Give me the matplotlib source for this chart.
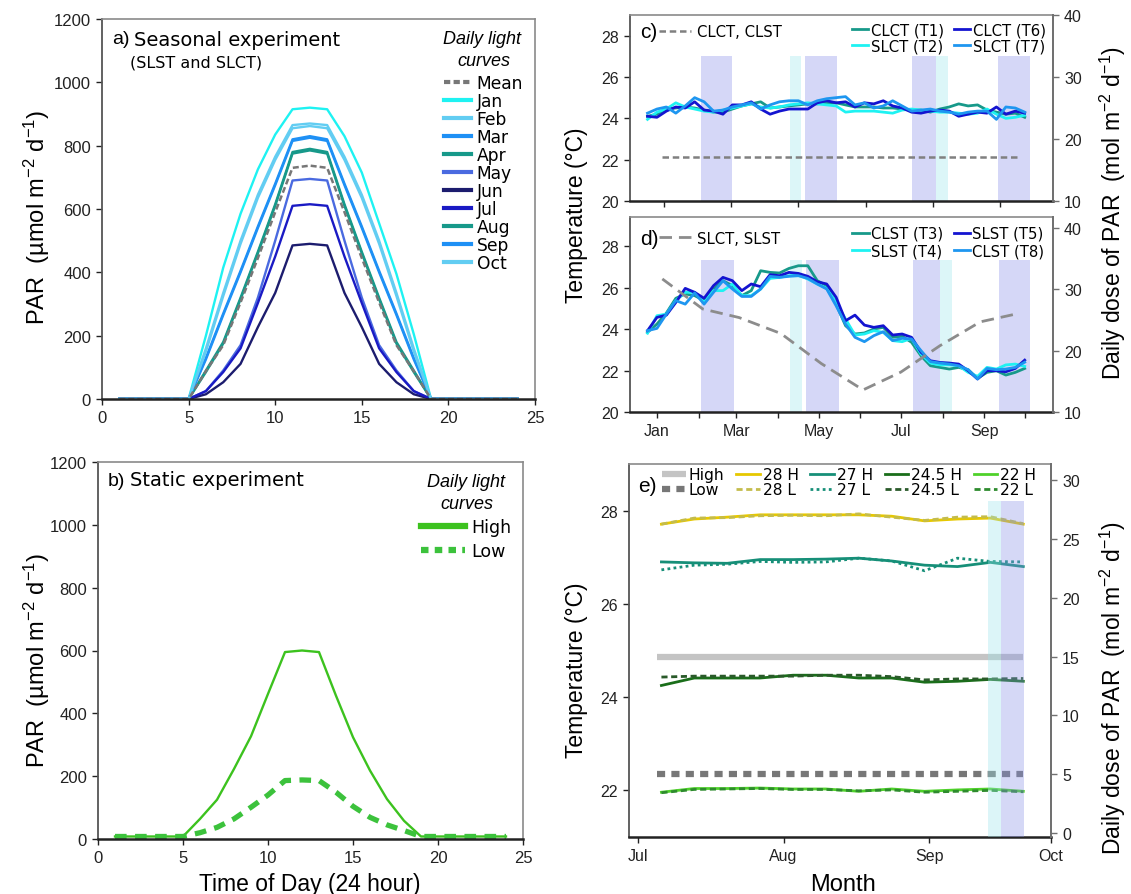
import matplotlib
matplotlib.use("Agg")
import matplotlib.pyplot as plt
from matplotlib.lines import Line2D

plt.rcParams['font.family'] = ['Liberation Sans', 'DejaVu Sans']
plt.rcParams['mathtext.fontset'] = 'custom'
plt.rcParams['mathtext.rm'] = 'Liberation Sans'
plt.rcParams['mathtext.it'] = 'Liberation Sans:italic'

# ---------------- data ----------------
hours = [1, 2, 3, 4, 5, 6, 7, 8, 9, 10, 11, 12, 13, 14, 15, 16, 17, 18, 19, 20, 21, 22, 23, 24]

par_mean = [0, 0, 0, 0, 0, 88, 170, 305, 445, 590, 730, 737, 730, 590, 445, 305, 170, 88, 0, 0, 0, 0, 0, 0]
par_jan = [0, 0, 0, 0, 0, 200, 415, 585, 725, 835, 915, 920, 915, 830, 715, 555, 395, 205, 0, 0, 0, 0, 0, 0]
par_feb = [0, 0, 0, 0, 0, 160, 335, 500, 645, 765, 865, 870, 865, 765, 645, 500, 335, 160, 0, 0, 0, 0, 0, 0]
par_mar = [0, 0, 0, 0, 0, 130, 270, 405, 545, 680, 820, 830, 820, 680, 545, 405, 270, 130, 0, 0, 0, 0, 0, 0]
par_apr = [0, 0, 0, 0, 0, 90, 180, 320, 465, 615, 780, 790, 780, 615, 465, 320, 180, 90, 0, 0, 0, 0, 0, 0]
par_may = [0, 0, 0, 0, 0, 25, 90, 170, 320, 500, 690, 695, 690, 500, 320, 170, 90, 25, 0, 0, 0, 0, 0, 0]
par_jun = [0, 0, 0, 0, 0, 15, 53, 111, 227, 335, 485, 490, 485, 335, 227, 111, 53, 15, 0, 0, 0, 0, 0, 0]
par_jul = [0, 0, 0, 0, 0, 25, 85, 160, 303, 450, 610, 615, 610, 450, 303, 160, 85, 25, 0, 0, 0, 0, 0, 0]
par_aug = [0, 0, 0, 0, 0, 85, 175, 315, 460, 610, 775, 785, 775, 610, 460, 315, 175, 85, 0, 0, 0, 0, 0, 0]
par_sep = [0, 0, 0, 0, 0, 125, 265, 400, 540, 675, 815, 825, 815, 675, 540, 400, 265, 125, 0, 0, 0, 0, 0, 0]
par_oct = [0, 0, 0, 0, 0, 150, 325, 490, 635, 755, 855, 862, 855, 755, 635, 490, 325, 150, 0, 0, 0, 0, 0, 0]
month_names = ['Jan', 'Feb', 'Mar', 'Apr', 'May', 'Jun', 'Jul', 'Aug', 'Sep', 'Oct']
month_colors = ['#1ef2f2', '#62cdf2', '#1e90f5', '#17998a', '#4a6ae0',
                '#1c1c6e', '#1a1ac4', '#17998a', '#1e90f5', '#62cdf2']

par_high = [8, 8, 8, 8, 8, 64, 125, 223, 327, 462, 595, 600, 595, 456, 324, 218, 127, 58, 8, 8, 8, 8, 8, 8]
par_low = [8, 8, 8, 8, 8, 20, 37, 64, 101, 140, 186, 188, 186, 149, 104, 69, 45, 27, 8, 8, 8, 8, 8, 8]

# weekly sampling days (day of year, 0 = 1 Jan) for panels c and d
week_day = [-7, 0, 7, 14, 21, 28, 35, 42, 49, 56, 63, 70, 77, 84, 91, 98, 105, 112, 119, 126,
            133, 140, 147, 154, 161, 168, 175, 182, 189, 196, 203, 210, 217, 224, 231, 238,
            245, 252, 259, 266, 273]
clct_t1 = [24.1, 24.2, 24.45, 24.5, 24.55, 24.5, 24.4, 24.3, 24.3, 24.45, 24.6, 24.7, 24.8, 24.5,
           24.55, 24.6, 24.65, 24.7, 24.7, 24.75, 24.75, 24.65, 24.55, 24.55, 24.55, 24.5, 24.5,
           24.45, 24.4, 24.4, 24.3, 24.45, 24.55, 24.7, 24.6, 24.65, 24.4, 24.3, 24.2, 24.25, 24.05]
slct_t2 = [23.95, 24.3, 24.45, 24.75, 24.55, 24.45, 24.35, 24.3, 24.4, 24.5, 24.6, 24.7, 24.55,
           24.5, 24.55, 24.65, 24.7, 24.75, 24.7, 24.65, 24.6, 24.3, 24.35, 24.35, 24.35, 24.3,
           24.25, 24.4, 24.45, 24.4, 24.35, 24.3, 24.3, 24.25, 24.2, 24.25, 24.45, 24.2, 24.0,
           24.05, 24.15]
clct_t6 = [24.1, 24.05, 24.35, 24.55, 24.5, 24.8, 24.4, 24.35, 24.2, 24.65, 24.65, 24.8, 24.45,
           24.2, 24.35, 24.45, 24.45, 24.45, 24.75, 24.85, 24.75, 24.8, 24.55, 24.75, 24.7, 24.85,
           24.6, 24.5, 24.3, 24.25, 24.35, 24.4, 24.35, 24.1, 24.2, 24.3, 24.25, 24.55, 24.2,
           24.35, 24.25]
slct_t7 = [24.25, 24.45, 24.55, 24.25, 24.6, 25.0, 24.8, 24.35, 24.4, 24.55, 24.65, 24.75, 24.45,
           24.65, 24.8, 24.85, 24.85, 24.65, 24.85, 24.95, 25.0, 25.05, 24.65, 24.75, 24.5, 24.6,
           24.85, 24.6, 24.35, 24.4, 24.45, 24.35, 24.3, 24.2, 24.3, 24.35, 24.35, 23.95, 24.55,
           24.5, 24.3]

clst_t3 = [23.84, 24.24, 24.77, 25.48, 25.69, 25.61, 25.37, 25.93, 26.33, 26.09, 25.61, 25.85,
           26.81, 26.73, 26.70, 26.92, 27.05, 27.05, 26.33, 26.09, 25.2, 24.16, 23.76, 23.81,
           24.0, 24.08, 23.6, 23.65, 23.36, 22.71, 22.23, 22.15, 22.07, 22.15, 22.04, 21.62,
           21.91, 21.99, 21.78, 21.91, 22.1]
slst_t4 = [23.8, 24.64, 24.72, 25.37, 25.77, 25.77, 25.29, 25.85, 25.85, 26.17, 25.61, 25.61,
           25.93, 26.44, 26.49, 26.57, 26.6, 26.41, 26.17, 25.96, 25.29, 24.48, 23.71, 23.76,
           23.92, 23.84, 23.44, 23.39, 23.55, 22.8, 22.36, 22.27, 22.27, 22.23, 21.91, 21.72,
           22.15, 22.07, 22.27, 22.31, 22.2]
slst_t5 = [23.92, 24.56, 24.67, 25.28, 25.96, 25.77, 25.48, 26.09, 26.49, 26.33, 25.85, 26.17,
           26.04, 26.62, 26.57, 26.73, 26.68, 26.54, 26.28, 26.17, 25.53, 24.40, 24.67, 24.19,
           24.08, 24.16, 23.71, 23.76, 23.60, 22.88, 22.47, 22.39, 22.36, 22.31, 21.99, 21.59,
           21.99, 21.99, 21.94, 22.10, 22.5]
clst_t8 = [23.92, 24.03, 24.72, 25.37, 25.2, 25.74, 25.2, 25.77, 26.33, 25.93, 25.57, 25.57,
           25.93, 26.54, 26.49, 26.54, 26.57, 26.44, 26.17, 25.93, 25.12, 24.24, 23.6, 23.39,
           23.68, 23.87, 23.44, 23.55, 23.52, 22.96, 22.43, 22.36, 22.31, 22.23, 22.04, 21.59,
           22.1, 22.04, 22.07, 22.15, 22.4]

# monthly daily light dose (mol m-2 d-1)
dose_day = [4, 34, 61, 92, 122, 153, 181, 210, 240, 269]
dose_seasonal = [31.7, 26.8, 25.4, 22.8, 17.9, 13.6, 16.5, 20.8, 24.7, 26.1]
dose_constant = [17.1, 17.1, 17.1, 17.1, 17.1, 17.1, 17.1, 17.1, 17.1, 17.1]

# shaded sampling periods (start day, end day, kind)
c_spans = [(33, 56, 'b'), (99, 107, 'c'), (110, 134, 'b'), (189, 207, 'b'), (207, 216, 'c'), (253, 277, 'b')]
d_spans = [(33, 57, 'b'), (99, 108, 'c'), (111, 135, 'b'), (190, 210, 'b'), (210, 219, 'c'), (254, 277, 'b')]

# panel e: days since 1 Jul
e_day = [5, 12, 19, 26, 33, 40, 47, 54, 61, 68, 75, 82]
t28h = [27.71, 27.82, 27.86, 27.91, 27.91, 27.91, 27.91, 27.88, 27.78, 27.82, 27.84, 27.71]
t28l = [27.71, 27.84, 27.85, 27.89, 27.90, 27.89, 27.93, 27.86, 27.79, 27.86, 27.87, 27.72]
t27h = [26.90, 26.88, 26.87, 26.95, 26.95, 26.96, 26.98, 26.92, 26.83, 26.80, 26.89, 26.80]
t27l = [26.73, 26.83, 26.85, 26.91, 26.89, 26.90, 26.98, 26.92, 26.71, 26.98, 26.91, 26.90]
t245h = [24.25, 24.41, 24.41, 24.41, 24.47, 24.47, 24.41, 24.41, 24.32, 24.34, 24.38, 24.34]
t245l = [24.43, 24.45, 24.45, 24.45, 24.45, 24.47, 24.47, 24.44, 24.37, 24.39, 24.39, 24.40]
t22h = [21.96, 22.04, 22.04, 22.05, 22.03, 22.03, 21.98, 22.03, 21.98, 22.01, 22.03, 21.98]
t22l = [21.95, 22.02, 22.03, 22.04, 22.02, 22.02, 21.99, 22.01, 21.96, 21.98, 22.00, 21.97]
e_light_day = [4, 82]
dose_high = [15, 15]
dose_low = [5, 5]
e_spans = [(74.6, 77.2, 'c'), (77.2, 82.2, 'b')]

# ---------------- figure ----------------
W, H = 1131, 895
fig = plt.figure(figsize=(W / 100, H / 100), dpi=100)


def box(l, t, r, b):
    return [l / W, 1 - b / H, (r - l) / W, (b - t) / H]


def style(ax, size=11.5):
    for s in ['top', 'right']:
        ax.spines[s].set_color('#8a8a8a')
        ax.spines[s].set_linewidth(1.2)
    ax.spines['left'].set_color('#555555')
    ax.spines['left'].set_linewidth(1.3)
    ax.spines['bottom'].set_color('#222222')
    ax.spines['bottom'].set_linewidth(1.8)
    ax.tick_params(direction='out', length=4.5, width=1, labelsize=size, colors='#222222')


def style_twin(ax2):
    for s in ['top', 'left', 'bottom']:
        ax2.spines[s].set_visible(False)
    ax2.spines['right'].set_color('#707070')
    ax2.spines['right'].set_linewidth(1.4)
    ax2.tick_params(direction='out', length=4.5, width=1, labelsize=11.5, colors='#222222')
    ax2.tick_params(axis='y', color='#707070')


SPAN_B = '#d5d7f7'
SPAN_C = '#dcf6f8'
TITLE_FP = {'style': 'italic', 'size': 13, 'family': 'Liberation Sans'}

# ---- panel a ----
axA = fig.add_axes(box(102, 20, 535, 400))
style(axA, 12)
month_vals = [par_jan, par_feb, par_mar, par_apr, par_may, par_jun, par_jul, par_aug, par_sep, par_oct]
for vals, col in zip(month_vals, month_colors):
    axA.plot(hours, vals, color=col, lw=1.7)
axA.plot(hours, par_mean, color='#777777', lw=1.8, ls=(0, (2.4, 1.2)))
axA.set_xlim(0, 25)
axA.set_ylim(0, 1200)
axA.set_xticks([0, 5, 10, 15, 20, 25])
axA.set_yticks([0, 200, 400, 600, 800, 1000, 1200])
handles = [Line2D([], [], color='#777777', lw=3, ls=(0, (1.5, 0.8)))]
handles += [Line2D([], [], color=c, lw=3) for c in month_colors]
axA.legend(handles, ['Mean'] + month_names, loc='upper right', bbox_to_anchor=(1.0, 0.887),
           frameon=False, handlelength=1.6, handletextpad=0.3, labelspacing=0.0,
           borderaxespad=0.3, prop={'family': 'DejaVu Sans', 'size': 12.3})
fig.text(482 / W, 1 - 40 / H, 'Daily light', ha='center', va='center', style='italic', fontsize=13)
fig.text(484 / W, 1 - 62 / H, 'curves', ha='center', va='center', style='italic', fontsize=13)
fig.text(112 / W, 1 - 40 / H, 'a)', fontsize=14, va='center', ha='left')
fig.text(134 / W, 1 - 40 / H, 'Seasonal experiment', fontsize=14, va='center', ha='left',
         family='DejaVu Sans')
fig.text(130 / W, 1 - 63 / H, '(SLST and SLCT)', fontsize=11.5, va='center', ha='left',
         family='DejaVu Sans')

# ---- panel b ----
axB = fig.add_axes(box(98, 463, 523, 840))
style(axB, 12)
axB.plot(hours, par_high, color='#3cc21e', lw=1.7)
axB.plot(hours, par_low, color='#3cc23c', lw=3.8, ls=(0, (2.2, 1.6)))
axB.set_xlim(0, 25)
axB.set_ylim(0, 1200)
axB.set_xticks([0, 5, 10, 15, 20, 25])
axB.set_yticks([0, 200, 400, 600, 800, 1000, 1200])
hB = [Line2D([], [], color='#3cc21e', lw=4.5), Line2D([], [], color='#3cc23c', lw=4.5, ls=(0, (1.2, 1.0)))]
legB = axB.legend(hB, ['High', 'Low'], loc='upper right', frameon=False, title='Daily light\ncurves',
                  handlelength=2.5, handletextpad=0.4, labelspacing=0.35, borderaxespad=0.25,
                  prop={'family': 'DejaVu Sans', 'size': 12.5},
                  title_fontproperties=TITLE_FP)
legB.get_title().set_linespacing(1.35)
legB.get_title().set_multialignment('center')
fig.text(108 / W, 1 - 481 / H, 'b)', fontsize=14, va='center', ha='left')
fig.text(130 / W, 1 - 481 / H, 'Static experiment', fontsize=14, va='center', ha='left',
         family='DejaVu Sans')

# ---- panel c ----
axC = fig.add_axes(box(630, 16, 1053, 202))
style(axC)
for s, e, k in c_spans:
    axC.axvspan(s, e, ymin=0, ymax=0.778, color=SPAN_B if k == 'b' else SPAN_C, lw=0, zorder=0)
l1, = axC.plot(week_day, clct_t1, color='#17998a', lw=2, label='CLCT (T1)')
l2, = axC.plot(week_day, slct_t2, color='#1ef2f2', lw=2, label='SLCT (T2)')
l6, = axC.plot(week_day, clct_t6, color='#1414d0', lw=2, label='CLCT (T6)')
l7, = axC.plot(week_day, slct_t7, color='#1e96f0', lw=2, label='SLCT (T7)')
axC.set_xlim(-20, 294)
axC.set_ylim(20, 29)
axC.set_yticks([20, 22, 24, 26, 28])
axC.set_xticks([5, 55, 105, 155, 205, 255])
axC.set_xticklabels([])
axC.legend(handles=[l1, l2, l6, l7], ncol=2, loc='upper right', frameon=False,
           prop={'family': 'DejaVu Sans', 'size': 10.7}, handlelength=1.1, handletextpad=0.15,
           columnspacing=0.7, labelspacing=0.05, borderaxespad=0.1)
axC2 = axC.twinx()
style_twin(axC2)
g1, = axC2.plot(dose_day, dose_constant, color='#808080', lw=1.8, ls=(0, (2.6, 1.5)), label='CLCT, CLST')
axC2.set_ylim(10, 40)
axC2.set_yticks([10, 20, 30, 40])
axC2.legend(handles=[g1], loc='upper left', bbox_to_anchor=(0.068, 0.95), frameon=False,
            prop={'family': 'DejaVu Sans', 'size': 10.7}, handlelength=2.2, handletextpad=0.4,
            borderaxespad=0, borderpad=0)
fig.text(640 / W, 1 - 33 / H, 'c)', fontsize=15, va='center', ha='left')

# ---- panel d ----
axD = fig.add_axes(box(630, 218, 1053, 413))
style(axD)
for s, e, k in d_spans:
    axD.axvspan(s, e, ymin=0, ymax=0.78, color=SPAN_B if k == 'b' else SPAN_C, lw=0, zorder=0)
l3, = axD.plot(week_day, clst_t3, color='#17998a', lw=2, label='CLST (T3)')
l4, = axD.plot(week_day, slst_t4, color='#1ef2f2', lw=2, label='SLST (T4)')
l5, = axD.plot(week_day, slst_t5, color='#1414d0', lw=2, label='SLST (T5)')
l8, = axD.plot(week_day, clst_t8, color='#1e96f0', lw=2, label='CLST (T8)')
axD.set_xlim(-20, 294)
axD.set_ylim(20, 29.4)
axD.set_yticks([20, 22, 24, 26, 28])
month_start = [0, 31, 59, 90, 120, 151, 181, 212, 243, 273]
axD.set_xticks(month_start)
axD.set_xticklabels(['Jan', '', 'Mar', '', 'May', '', 'Jul', '', 'Sep', ''])
axD.legend(handles=[l3, l4, l5, l8], ncol=2, loc='upper right', frameon=False,
           prop={'family': 'DejaVu Sans', 'size': 10.7}, handlelength=1.1, handletextpad=0.15,
           columnspacing=0.7, labelspacing=0.15, borderaxespad=0.2)
axD2 = axD.twinx()
style_twin(axD2)
g2, = axD2.plot(dose_day, dose_seasonal, color='#8c8c8c', lw=2, ls=(0, (4.5, 2.5)), label='SLCT, SLST')
axD2.set_ylim(10, 41.8)
axD2.set_yticks([10, 20, 30, 40])
axD2.legend(handles=[g2], loc='upper left', bbox_to_anchor=(0.068, 0.93), frameon=False,
            prop={'family': 'DejaVu Sans', 'size': 10.7}, handlelength=2.2, handletextpad=0.4,
            borderaxespad=0, borderpad=0)
fig.text(640 / W, 1 - 240 / H, 'd)', fontsize=15, va='center', ha='left')

# ---- panel e ----
axE = fig.add_axes(box(629, 465, 1051, 838))
style(axE)
e28h, = axE.plot(e_day, t28h, color='#e6c800', lw=2, label='28 H')
e28l, = axE.plot(e_day, t28l, color='#c4bc4c', lw=2, ls=(0, (2.2, 1.3)), label='28 L')
e27h, = axE.plot(e_day, t27h, color='#168f78', lw=2, label='27 H')
e27l, = axE.plot(e_day, t27l, color='#168f78', lw=2, ls=(0, (1, 1.2)), label='27 L')
e245h, = axE.plot(e_day, t245h, color='#1a6e1a', lw=2, label='24.5 H')
e245l, = axE.plot(e_day, t245l, color='#2a5a2a', lw=2, ls=(0, (2.2, 1.3)), label='24.5 L')
e22h, = axE.plot(e_day, t22h, color='#4fd12a', lw=2, label='22 H')
e22l, = axE.plot(e_day, t22l, color='#2e8b2e', lw=2, ls=(0, (2.2, 1.3)), label='22 L')
axE.set_xlim(-1.9, 87.9)
axE.set_ylim(21, 29)
axE.set_yticks([22, 24, 26, 28])
axE.set_xticks([0, 31, 62, 87.9])
axE.set_xticklabels(['Jul', 'Aug', 'Sep', 'Oct'])
axE2 = axE.twinx()
style_twin(axE2)
gh, = axE2.plot(e_light_day, dose_high, color='#c4c4c4', lw=4.5, label='High', solid_capstyle='butt')
gl, = axE2.plot(e_light_day, dose_low, color='#777777', lw=4.5, ls=(0, (1.3, 1.0)), label='Low')
for s, e, k in e_spans:
    axE2.axvspan(s, e, ymin=0, ymax=0.901, color='#8791e8' if k == 'b' else '#9be5eb',
                 alpha=0.35, lw=0, zorder=5)
axE2.set_ylim(-0.35, 31.4)
axE2.set_yticks([0, 5, 10, 15, 20, 25, 30])
axE2.legend(handles=[gh, gl, e28h, e28l, e27h, e27l, e245h, e245l, e22h, e22l], ncol=5,
            loc='upper left', bbox_to_anchor=(0.072, 1.0), frameon=False,
            prop={'family': 'DejaVu Sans', 'size': 11.2}, handlelength=1.5, handletextpad=0.2,
            columnspacing=0.75, labelspacing=0.02, borderaxespad=0.1, borderpad=0.1)
fig.text(638 / W, 1 - 487 / H, 'e)', fontsize=15, va='center', ha='left')

# ---- axis labels ----
par_lab = 'PAR  (\u00b5mol m$^{-2}$ d$^{-1}$)'
fig.text(37 / W, 1 - 217 / H, par_lab, rotation=90, ha='center', va='center', fontsize=17)
fig.text(37 / W, 1 - 660 / H, par_lab, rotation=90, ha='center', va='center', fontsize=17)
fig.text(577 / W, 1 - 215 / H, 'Temperature (\u00b0C)', rotation=90, ha='center', va='center', fontsize=16.5)
fig.text(577 / W, 1 - 670 / H, 'Temperature (\u00b0C)', rotation=90, ha='center', va='center', fontsize=16.5)
dose_lab = 'Daily dose of PAR  (mol m$^{-2}$ d$^{-1}$)'
fig.text(1113 / W, 1 - 213 / H, dose_lab, rotation=90, ha='center', va='center', fontsize=16.5)
fig.text(1113 / W, 1 - 688 / H, dose_lab, rotation=90, ha='center', va='center', fontsize=16.5)
fig.text(310 / W, 1 - 891 / H, 'Time of Day (24 hour)', ha='center', va='baseline', fontsize=16.5)
fig.text(843 / W, 1 - 891 / H, 'Month', ha='center', va='baseline', fontsize=17)

fig.savefig('out.png', dpi=100)
